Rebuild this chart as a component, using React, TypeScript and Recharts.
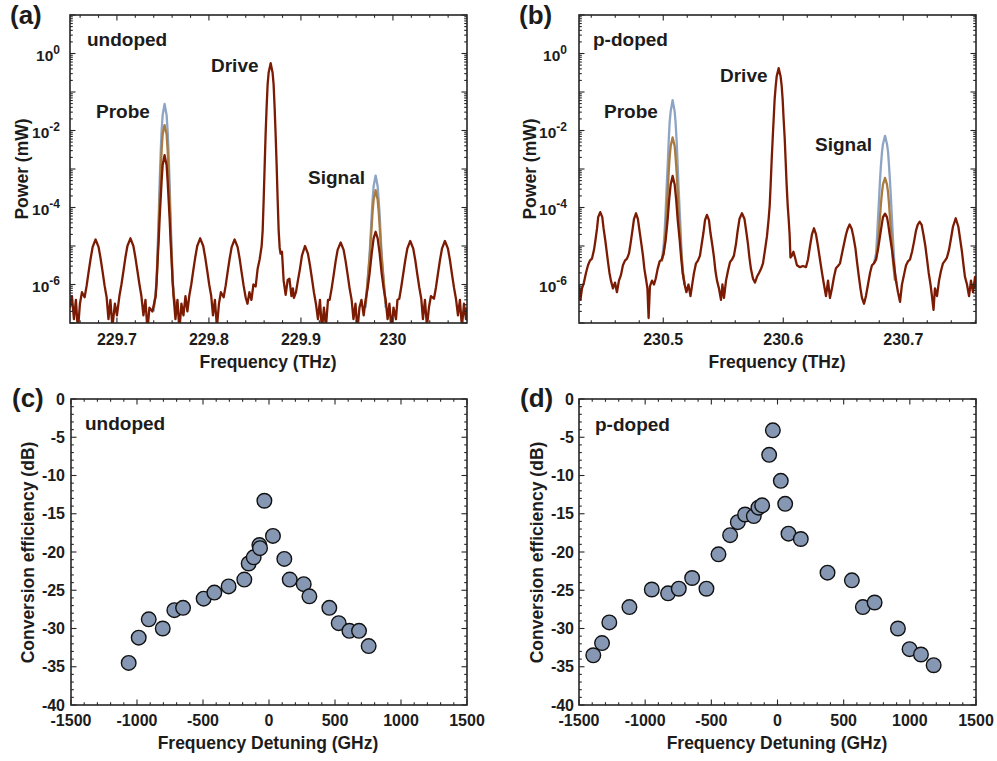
import React from 'react';
import { LineChart, Line, XAxis, YAxis, ScatterChart, Scatter } from 'recharts';

type Pt = [number, number];

const FONT = '"Liberation Sans", Arial, Helvetica, sans-serif';
const INK = '#1c1c1c';
const AX = '#262626';
const BLUE = '#8ea4c5';
const ORANGE = '#a97b40';
const RED = '#7c1b03';
const MARKER = '#8597b2';

// ---------- (a) undoped spectrum : [frequency (THz), log10(power / mW)] ----------
const undopedRed: Pt[] = [
  [229.6489,-6.6],[229.6511,-6.3],[229.6533,-6.9],[229.6554,-6.4],[229.6576,-7.2],[229.6598,-6.5],[229.6620,-6.2],
  [229.6649,-6.33],[229.6671,-6.03],[229.6692,-5.68],[229.6714,-5.33],[229.6736,-5.03],[229.6768,-4.83],[229.6801,-5.03],[229.6823,-5.33],[229.6845,-5.68],[229.6866,-6.03],[229.6888,-6.33],
  [229.6908,-6.9],[229.6929,-6.4],[229.6951,-7.1],[229.6978,-6.5],[229.7000,-6.8],
  [229.7027,-6.3],[229.7049,-6.0],[229.7071,-5.65],[229.7092,-5.3],[229.7114,-5.0],[229.7147,-4.8],[229.7179,-5.0],[229.7201,-5.3],[229.7223,-5.65],[229.7245,-6.0],[229.7266,-6.3],
  [229.7288,-6.8],[229.7310,-6.4],[229.7332,-7.2],[229.7353,-6.6],[229.7386,-6.7],
  [229.7421,-6.3],[229.7432,-5.9],[229.7442,-5.4],[229.7453,-4.9],[229.7464,-4.3],[229.7475,-3.8],[229.7486,-3.3],[229.7497,-2.9],[229.7518,-2.64],[229.7540,-2.9],[229.7551,-3.3],[229.7562,-3.8],[229.7573,-4.3],[229.7584,-4.9],[229.7595,-5.4],[229.7605,-5.9],[229.7616,-6.3],
  [229.7636,-6.9],[229.7658,-6.4],[229.7679,-7.2],[229.7701,-6.5],[229.7723,-6.8],[229.7745,-6.3],[229.7766,-6.7],
  [229.7786,-6.3],[229.7808,-6.0],[229.7829,-5.65],[229.7851,-5.3],[229.7873,-5.0],[229.7905,-4.8],[229.7938,-5.0],[229.7960,-5.3],[229.7982,-5.65],[229.8003,-6.0],[229.8025,-6.3],
  [229.8044,-6.8],[229.8065,-6.4],[229.8087,-7.1],[229.8109,-6.5],[229.8130,-6.2],
  [229.8160,-6.33],[229.8182,-6.03],[229.8203,-5.68],[229.8225,-5.33],[229.8247,-5.03],[229.8279,-4.83],[229.8312,-5.03],[229.8334,-5.33],[229.8355,-5.68],[229.8377,-6.03],[229.8399,-6.33],
  [229.8419,-6.5],[229.8440,-6.2],[229.8462,-6.4],[229.8484,-6.0],
  [229.8508,-6.05],[229.8529,-5.6],[229.8551,-5.35],[229.8573,-5.0],[229.8584,-4.6],[229.8595,-3.8],[229.8606,-2.9],[229.8616,-2.1],[229.8627,-1.4],[229.8638,-0.8],[229.8649,-0.5],[229.8671,-0.25],[229.8692,-0.5],[229.8703,-0.8],[229.8714,-1.4],[229.8725,-2.1],[229.8736,-2.9],[229.8747,-3.8],[229.8758,-4.6],[229.8769,-5.05],[229.8779,-5.2],[229.8794,-5.15],[229.8812,-5.9],[229.8834,-6.27],[229.8856,-5.88],[229.8875,-5.85],[229.8897,-6.3],[229.8913,-6.1],
  [229.8924,-6.35],[229.8946,-6.2],[229.8967,-5.9],[229.8989,-5.6],[229.9011,-5.25],[229.9044,-5.0],[229.9076,-5.2],[229.9098,-5.5],[229.9120,-5.85],[229.9141,-6.2],[229.9163,-6.5],
  [229.9185,-6.9],[229.9207,-6.4],[229.9228,-7.2],[229.9250,-6.6],[229.9272,-7.1],[229.9294,-6.4],
  [229.9312,-6.4],[229.9334,-6.1],[229.9356,-5.75],[229.9377,-5.4],[229.9399,-5.1],[229.9432,-4.91],[229.9464,-5.1],[229.9486,-5.4],[229.9508,-5.75],[229.9529,-6.1],[229.9551,-6.4],
  [229.9571,-6.9],[229.9593,-6.5],[229.9614,-7.2],[229.9636,-6.6],[229.9658,-6.4],
  [229.9682,-6.8],[229.9703,-6.4],[229.9725,-6.1],[229.9747,-5.7],[229.9769,-5.2],[229.9790,-4.8],[229.9812,-4.63],[229.9834,-4.8],[229.9856,-5.2],[229.9877,-5.7],[229.9899,-6.1],[229.9921,-6.4],
  [229.9942,-6.9],[229.9962,-6.5],[229.9984,-7.2],[230.0006,-6.6],[230.0033,-6.9],[230.0049,-6.4],
  [230.0069,-6.37],[230.0090,-6.07],[230.0112,-5.72],[230.0134,-5.37],[230.0156,-5.07],[230.0188,-4.87],[230.0221,-5.07],[230.0243,-5.37],[230.0264,-5.72],[230.0286,-6.07],[230.0308,-6.37],
  [230.0326,-6.9],[230.0348,-6.4],[230.0370,-7.1],[230.0391,-6.6],[230.0413,-6.3],
  [230.0446,-6.37],[230.0468,-6.07],[230.0489,-5.72],[230.0511,-5.37],[230.0533,-5.07],[230.0565,-4.87],[230.0598,-5.07],[230.0620,-5.37],[230.0641,-5.72],[230.0663,-6.07],[230.0685,-6.37],
  [230.0707,-6.8],[230.0728,-6.4],[230.0750,-7.1],[230.0772,-6.5],[230.0794,-6.9],[230.0805,-6.6],
];
const undopedOrangeProbe: Pt[] = [
  [229.7399,-6.6],[229.7421,-6.3],[229.7432,-5.9],[229.7442,-5.3],[229.7453,-4.6],[229.7464,-3.8],[229.7475,-3.1],[229.7486,-2.5],[229.7497,-2.1],[229.7518,-1.86],
  [229.7540,-2.1],[229.7551,-2.5],[229.7562,-3.1],[229.7573,-3.8],[229.7584,-4.6],[229.7595,-5.3],[229.7605,-5.9],[229.7616,-6.3],[229.7638,-6.6],
];
const undopedBlueProbe: Pt[] = [
  [229.7399,-6.7],[229.7421,-6.2],[229.7432,-5.8],[229.7442,-5.1],[229.7453,-4.3],[229.7464,-3.4],[229.7475,-2.6],[229.7486,-2.0],[229.7497,-1.6],[229.7518,-1.31],
  [229.7540,-1.6],[229.7551,-2.0],[229.7562,-2.6],[229.7573,-3.4],[229.7584,-4.3],[229.7595,-5.1],[229.7605,-5.8],[229.7616,-6.2],[229.7638,-6.7],
];
const undopedOrangeSignal: Pt[] = [
  [229.9703,-6.5],[229.9725,-5.9],[229.9747,-5.3],[229.9758,-4.9],[229.9769,-4.5],[229.9779,-4.1],[229.9790,-3.8],[229.9812,-3.55],
  [229.9834,-3.8],[229.9845,-4.1],[229.9856,-4.5],[229.9866,-4.9],[229.9877,-5.3],[229.9899,-5.9],[229.9921,-6.5],
];
const undopedBlueSignal: Pt[] = [
  [229.9703,-6.6],[229.9725,-5.9],[229.9747,-5.2],[229.9758,-4.7],[229.9769,-4.2],[229.9779,-3.8],[229.9790,-3.45],[229.9812,-3.17],
  [229.9834,-3.45],[229.9845,-3.8],[229.9856,-4.2],[229.9866,-4.7],[229.9877,-5.2],[229.9899,-5.9],[229.9921,-6.6],
];

// ---------- (b) p-doped spectrum ----------
const pdopedRed: Pt[] = [
  [230.4298,-6.0],[230.4310,-6.4],[230.4323,-6.1],[230.4339,-5.95],[230.4356,-5.7],[230.4373,-5.5],[230.4389,-5.38],[230.4406,-5.33],[230.4423,-5.1],[230.4435,-4.85],[230.4448,-4.55],[230.4458,-4.25],[230.4475,-4.12],[230.4492,-4.25],[230.4503,-4.55],[230.4517,-4.85],[230.4527,-5.1],[230.4539,-5.4],[230.4552,-5.7],[230.4564,-5.9],[230.4581,-6.1],[230.4598,-5.95],[230.4614,-6.2],
  [230.4631,-5.9],[230.4648,-5.75],[230.4664,-5.5],[230.4681,-5.38],[230.4698,-5.33],[230.4714,-5.2],[230.4727,-4.95],[230.4743,-4.6],[230.4756,-4.3],[230.4773,-4.15],[230.4789,-4.3],[230.4802,-4.6],[230.4818,-4.95],[230.4831,-5.25],[230.4843,-5.6],[230.4856,-5.85],[230.4868,-6.1],[230.4878,-6.87],[230.4889,-6.05],[230.4906,-5.9],[230.4923,-6.0],
  [230.4937,-5.85],[230.4953,-5.6],[230.4970,-5.4],[230.4987,-5.35],[230.5003,-5.2],[230.5020,-4.85],[230.5037,-4.3],[230.5049,-3.8],[230.5062,-3.4],[230.5078,-3.18],[230.5095,-3.4],[230.5108,-3.8],[230.5120,-4.3],[230.5137,-4.85],[230.5149,-5.3],[230.5162,-5.7],[230.5178,-6.0],[230.5193,-6.2],[230.5210,-6.0],[230.5227,-6.3],
  [230.5239,-6.05],[230.5256,-5.7],[230.5273,-5.45],[230.5289,-5.38],[230.5306,-5.25],[230.5318,-5.0],[230.5335,-4.65],[230.5348,-4.33],[230.5364,-4.19],[230.5381,-4.33],[230.5393,-4.65],[230.5410,-5.0],[230.5423,-5.3],[230.5435,-5.65],[230.5448,-5.9],[230.5464,-6.1],[230.5481,-6.4],[230.5493,-6.0],[230.5506,-6.35],
  [230.5523,-5.9],[230.5539,-5.65],[230.5556,-5.42],[230.5573,-5.35],[230.5589,-5.25],[230.5606,-4.95],[230.5618,-4.65],[230.5635,-4.3],[230.5656,-4.15],[230.5677,-4.3],[230.5693,-4.65],[230.5706,-4.95],[230.5718,-5.3],[230.5731,-5.6],[230.5748,-5.85],[230.5764,-5.95],[230.5781,-5.8],
  [230.5798,-5.7],[230.5814,-5.6],[230.5831,-5.45],[230.5848,-5.1],[230.5864,-4.75],[230.5878,-4.3],[230.5887,-3.95],[230.5895,-3.4],[230.5903,-2.8],[230.5912,-2.2],[230.5920,-1.7],[230.5928,-1.2],[230.5937,-0.85],[230.5945,-0.6],[230.5962,-0.38],[230.5978,-0.6],[230.5987,-0.85],[230.5995,-1.2],[230.6003,-1.7],[230.6012,-2.2],[230.6020,-2.8],[230.6028,-3.4],[230.6037,-3.95],[230.6045,-4.3],[230.6053,-4.7],[230.6060,-5.3],[230.6073,-5.25],[230.6085,-5.15],[230.6098,-5.3],[230.6114,-5.5],[230.6139,-5.55],[230.6164,-5.52],[230.6189,-5.55],
  [230.6206,-5.35],[230.6223,-5.0],[230.6239,-4.7],[230.6256,-4.54],[230.6273,-4.7],[230.6289,-5.0],[230.6306,-5.35],[230.6323,-5.7],[230.6339,-6.0],[230.6356,-6.3],[230.6373,-5.9],[230.6389,-6.35],[230.6406,-6.1],
  [230.6423,-5.8],[230.6439,-5.58],[230.6456,-5.52],[230.6473,-5.45],[230.6489,-5.2],[230.6506,-4.95],[230.6523,-4.7],[230.6537,-4.55],[230.6553,-4.44],[230.6570,-4.55],[230.6584,-4.75],[230.6601,-5.05],[230.6614,-5.4],[230.6628,-5.75],[230.6643,-6.1],[230.6656,-6.35],[230.6673,-6.5],[230.6689,-6.3],
  [230.6706,-6.0],[230.6723,-5.7],[230.6739,-5.5],[230.6756,-5.45],[230.6773,-5.35],[230.6789,-5.1],[230.6806,-4.75],[230.6823,-4.4],[230.6831,-4.25],[230.6848,-4.16],[230.6864,-4.25],[230.6873,-4.4],[230.6889,-4.75],[230.6906,-5.1],[230.6923,-5.5],[230.6939,-5.9],[230.6956,-6.2],[230.6973,-6.45],[230.6989,-6.0],
  [230.7006,-5.75],[230.7023,-5.5],[230.7039,-5.4],[230.7056,-5.35],[230.7073,-5.15],[230.7089,-4.9],[230.7106,-4.6],[230.7120,-4.45],[230.7137,-4.37],[230.7153,-4.45],[230.7168,-4.7],[230.7184,-5.0],[230.7198,-5.35],[230.7212,-5.7],[230.7227,-6.0],[230.7239,-6.3],[230.7252,-6.66],[230.7264,-6.1],[230.7281,-6.3],
  [230.7298,-5.9],[230.7314,-5.65],[230.7331,-5.45],[230.7348,-5.38],[230.7364,-5.3],[230.7381,-5.1],[230.7398,-4.8],[230.7414,-4.5],[230.7437,-4.28],[230.7459,-4.5],[230.7473,-4.8],[230.7489,-5.15],[230.7502,-5.5],[230.7514,-5.8],[230.7531,-6.0],[230.7548,-6.3],[230.7564,-5.9],[230.7581,-6.2],[230.7598,-5.8],[230.7606,-6.1],
];
const pdopedOrangeProbe: Pt[] = [
  [230.4987,-5.4],[230.5003,-5.2],[230.5020,-4.6],[230.5028,-4.1],[230.5037,-3.6],[230.5045,-3.1],[230.5053,-2.7],[230.5062,-2.4],[230.5078,-2.18],
  [230.5095,-2.4],[230.5103,-2.7],[230.5112,-3.1],[230.5120,-3.6],[230.5128,-4.1],[230.5137,-4.6],[230.5149,-5.1],[230.5162,-5.6],[230.5178,-6.0],
];
const pdopedBlueProbe: Pt[] = [
  [230.4987,-5.4],[230.5003,-5.0],[230.5012,-4.6],[230.5020,-4.1],[230.5028,-3.5],[230.5037,-2.9],[230.5045,-2.3],[230.5053,-1.8],[230.5062,-1.5],[230.5078,-1.21],
  [230.5095,-1.5],[230.5103,-1.8],[230.5112,-2.3],[230.5120,-2.9],[230.5128,-3.5],[230.5137,-4.1],[230.5145,-4.6],[230.5153,-5.2],[230.5162,-5.7],[230.5178,-6.0],
];
const pdopedOrangeSignal: Pt[] = [
  [230.6756,-5.45],[230.6773,-5.35],[230.6789,-4.95],[230.6798,-4.6],[230.6806,-4.25],[230.6814,-3.9],[230.6823,-3.6],[230.6831,-3.4],[230.6848,-3.23],
  [230.6864,-3.4],[230.6873,-3.6],[230.6881,-3.9],[230.6889,-4.25],[230.6898,-4.6],[230.6906,-5.0],[230.6914,-5.4],[230.6931,-5.9],
];
const pdopedBlueSignal: Pt[] = [
  [230.6756,-5.45],[230.6773,-5.2],[230.6781,-4.8],[230.6789,-4.3],[230.6798,-3.8],[230.6806,-3.3],[230.6814,-2.9],[230.6823,-2.55],[230.6831,-2.35],[230.6848,-2.14],
  [230.6864,-2.35],[230.6873,-2.55],[230.6881,-2.9],[230.6889,-3.3],[230.6898,-3.8],[230.6906,-4.3],[230.6914,-4.8],[230.6923,-5.3],[230.6931,-5.7],[230.6948,-6.0],
];

// ---------- (c) / (d) conversion efficiency ----------
const undopedDetuning = [-1063, -987, -911, -805, -717, -651, -495, -414, -306, -187, -154, -116, -73, -68, -35, 30, 116, 157, 263, 306, 457, 528, 609, 682, 755];
const undopedEfficiency = [-34.5, -31.2, -28.8, -30.0, -27.6, -27.3, -26.1, -25.3, -24.5, -23.6, -21.5, -20.7, -19.1, -19.5, -13.3, -17.9, -20.9, -23.6, -24.2, -25.8, -27.3, -29.3, -30.3, -30.3, -32.3];
const pdopedDetuning = [-1392, -1326, -1271, -1119, -950, -827, -746, -645, -537, -446, -358, -300, -245, -179, -144, -116, -63, -35, 25, 58, 83, 176, 378, 562, 645, 734, 910, 998, 1084, 1180];
const pdopedEfficiency = [-33.5, -31.9, -29.2, -27.2, -24.9, -25.4, -24.8, -23.4, -24.8, -20.3, -17.8, -16.1, -15.1, -15.3, -14.2, -13.9, -7.3, -4.1, -10.7, -13.7, -17.6, -18.3, -22.7, -23.7, -27.2, -26.6, -30.0, -32.7, -33.4, -34.8];

// ---------- ticks ----------
const undopedFreqTicks = [229.7, 229.8, 229.9, 230.0];
const undopedFreqMinor = [229.66, 229.68, 229.72, 229.74, 229.76, 229.78, 229.82, 229.84, 229.86, 229.88, 229.92, 229.94, 229.96, 229.98, 230.02, 230.04, 230.06];
const pdopedFreqTicks = [230.5, 230.6, 230.7];
const pdopedFreqMinor = [230.44, 230.46, 230.48, 230.52, 230.54, 230.56, 230.58, 230.62, 230.64, 230.66, 230.68, 230.72, 230.74, 230.76];
const powerDecades = [1e-7, 1e-6, 1e-5, 1e-4, 1e-3, 1e-2, 1e-1, 1, 10];
const powerLabelled = [-6, -4, -2, 0];
const detuningTicks = [-1500, -1000, -500, 0, 500, 1000, 1500];
const efficiencyTicks = [0, -5, -10, -15, -20, -25, -30, -35, -40];

const powerMinor: number[] = [];
for (let e = -7; e <= 0; e++) for (let k = 2; k <= 9; k++) powerMinor.push(k * Math.pow(10, e));
const detuningMinor: number[] = [];
for (let v = -1400; v <= 1400; v += 100) if (v % 500 !== 0) detuningMinor.push(v);
const efficiencyMinor: number[] = [];
for (let v = -39; v <= -1; v++) if (v % 5 !== 0) efficiencyMinor.push(v);

const toRows = (pts: Pt[]) => pts.map(([f, e]) => ({ f, p: Math.pow(10, e) }));
const isIn = (list: number[], v: number) => list.some((m) => Math.abs(m - v) < 1e-9 * Math.max(1, Math.abs(m)));

const MAJ = 5.5;
const MIN = 2.8;
const TICK_FS = 16;
const RIGHT = 40;

function makeXTick(plotH: number, majors: number[], fmt: (v: number) => string, labelDy: number) {
  return (props: any) => {
    const { x, y, payload } = props;
    const v = payload.value;
    const major = isIn(majors, v);
    const len = major ? MAJ : MIN;
    return (
      <g>
        <line x1={x} y1={y} x2={x} y2={y - len} stroke={AX} strokeWidth={1.1} />
        <line x1={x} y1={y - plotH} x2={x} y2={y - plotH + len} stroke={AX} strokeWidth={1.1} />
        {major ? (
          <text x={x} y={y + labelDy} textAnchor="middle" fontFamily={FONT} fontWeight="bold" fontSize={TICK_FS} fill={INK}>
            {fmt(v)}
          </text>
        ) : null}
      </g>
    );
  };
}

function makeLinYTick(plotW: number, majors: number[], gap: number) {
  return (props: any) => {
    const { x, y, payload } = props;
    const v = payload.value;
    const major = isIn(majors, v);
    const len = major ? MAJ : MIN;
    return (
      <g>
        <line x1={x} y1={y} x2={x + len} y2={y} stroke={AX} strokeWidth={1.1} />
        <line x1={x + plotW} y1={y} x2={x + plotW - len} y2={y} stroke={AX} strokeWidth={1.1} />
        {major ? (
          <text x={x - gap} y={y + 5.6} textAnchor="end" fontFamily={FONT} fontWeight="bold" fontSize={TICK_FS} fill={INK}>
            {String(v)}
          </text>
        ) : null}
      </g>
    );
  };
}

function makeLogYTick(plotW: number, gap: number) {
  return (props: any) => {
    const { x, y, payload } = props;
    const v = payload.value;
    const lg = Math.log10(v);
    const e = Math.round(lg);
    const major = Math.abs(lg - e) < 1e-6;
    const len = major ? MAJ : MIN;
    const lab = major && powerLabelled.indexOf(e) >= 0;
    return (
      <g>
        <line x1={x} y1={y} x2={x + len} y2={y} stroke={AX} strokeWidth={1.1} />
        <line x1={x + plotW} y1={y} x2={x + plotW - len} y2={y} stroke={AX} strokeWidth={1.1} />
        {lab ? (
          <text x={x - gap} y={y + 7.5} textAnchor="end" fontFamily={FONT} fontWeight="bold" fontSize={15.5} fill={INK}>
            10
            <tspan dy={-7.5} fontSize={12}>{String(e)}</tspan>
          </text>
        ) : null}
      </g>
    );
  };
}

type Trace = { rows: { f: number; p: number }[]; color: string };

function SpectrumPanel(props: {
  left: number; top: number; plotW: number; plotH: number; domain: [number, number];
  majors: number[]; minors: number[]; fmt: (v: number) => string; gap: number; traces: Trace[];
}) {
  const { left, top, plotW, plotH, domain, majors, minors, fmt, gap, traces } = props;
  const W = 70 + plotW + RIGHT;
  const H = 10 + plotH + 50;
  const xt = [...majors, ...minors].sort((a, b) => a - b);
  const yt = [...powerDecades, ...powerMinor].sort((a, b) => a - b);
  return (
    <div style={{ position: 'absolute', left: left - 70, top: top - 10 }}>
      <LineChart width={W} height={H} margin={{ top: 10, right: RIGHT, bottom: 0, left: 0 }}>
        <XAxis dataKey="f" type="number" domain={domain} allowDataOverflow ticks={xt} interval={0}
          tickSize={0} tickMargin={0} tickLine={false} axisLine={false} height={50}
          tick={makeXTick(plotH, majors, fmt, 22)} />
        <YAxis type="number" scale="log" domain={[1e-7, 10]} allowDataOverflow ticks={yt} interval={0}
          tickSize={0} tickMargin={0} tickLine={false} axisLine={false} width={70}
          tick={makeLogYTick(plotW, gap)} />
        {traces.map((t, i) => (
          <Line key={i} data={t.rows} dataKey="p" type="linear" stroke={t.color} strokeWidth={2.3}
            dot={false} activeDot={false} isAnimationActive={false} strokeLinejoin="round" />
        ))}
      </LineChart>
    </div>
  );
}

const dotShape = (p: any) => (
  <circle cx={p.cx} cy={p.cy} r={7.3} fill={MARKER} stroke="#111" strokeWidth={1.4} />
);

function ScatterPanel(props: { left: number; top: number; plotW: number; plotH: number; xs: number[]; ys: number[]; gap: number }) {
  const { left, top, plotW, plotH, xs, ys, gap } = props;
  const W = 70 + plotW + RIGHT;
  const H = 10 + plotH + 50;
  const rows = xs.map((x, i) => ({ x, y: ys[i] }));
  const xt = [...detuningTicks, ...detuningMinor].sort((a, b) => a - b);
  const yt = [...efficiencyTicks, ...efficiencyMinor].sort((a, b) => a - b);
  return (
    <div style={{ position: 'absolute', left: left - 70, top: top - 10 }}>
      <ScatterChart width={W} height={H} margin={{ top: 10, right: RIGHT, bottom: 0, left: 0 }}>
        <XAxis dataKey="x" type="number" domain={[-1500, 1500]} allowDataOverflow ticks={xt} interval={0}
          tickSize={0} tickMargin={0} tickLine={false} axisLine={false} height={50}
          tick={makeXTick(plotH, detuningTicks, (v) => String(v), 21)} />
        <YAxis dataKey="y" type="number" domain={[-40, 0]} allowDataOverflow ticks={yt} interval={0}
          tickSize={0} tickMargin={0} tickLine={false} axisLine={false} width={70}
          tick={makeLinYTick(plotW, efficiencyTicks, gap)} />
        <Scatter data={rows} shape={dotShape} isAnimationActive={false} />
      </ScatterChart>
    </div>
  );
}

const fmtFreq = (v: number) => (Math.abs(v - Math.round(v)) < 1e-9 ? String(Math.round(v)) : v.toFixed(1));

const T = (p: { x: number; y: number; size: number; children: React.ReactNode; anchor?: string; rot?: boolean }) =>
  p.rot ? (
    <text transform={`translate(${p.x},${p.y}) rotate(-90)`} textAnchor="middle" fontFamily={FONT} fontWeight="bold" fontSize={p.size} fill={INK}>
      {p.children}
    </text>
  ) : (
    <text x={p.x} y={p.y} textAnchor={(p.anchor as any) || 'start'} fontFamily={FONT} fontWeight="bold" fontSize={p.size} fill={INK}>
      {p.children}
    </text>
  );

export default function App() {
  return (
    <div style={{ position: 'absolute', left: 0, top: 0, width: 997, height: 761, background: '#fff', fontFamily: FONT, overflow: 'hidden' }}>
      <SpectrumPanel left={70} top={15} plotW={397} plotH={308} domain={[229.649, 230.0805]}
        majors={undopedFreqTicks} minors={undopedFreqMinor} fmt={fmtFreq} gap={10}
        traces={[
          { rows: toRows(undopedBlueProbe), color: BLUE },
          { rows: toRows(undopedBlueSignal), color: BLUE },
          { rows: toRows(undopedOrangeProbe), color: ORANGE },
          { rows: toRows(undopedOrangeSignal), color: ORANGE },
          { rows: toRows(undopedRed), color: RED },
        ]} />
      <SpectrumPanel left={579} top={15} plotW={397} plotH={308} domain={[230.4298, 230.7606]}
        majors={pdopedFreqTicks} minors={pdopedFreqMinor} fmt={fmtFreq} gap={12}
        traces={[
          { rows: toRows(pdopedBlueProbe), color: BLUE },
          { rows: toRows(pdopedBlueSignal), color: BLUE },
          { rows: toRows(pdopedOrangeProbe), color: ORANGE },
          { rows: toRows(pdopedOrangeSignal), color: ORANGE },
          { rows: toRows(pdopedRed), color: RED },
        ]} />
      <ScatterPanel left={71} top={399} plotW={396} plotH={306} xs={undopedDetuning} ys={undopedEfficiency} gap={6} />
      <ScatterPanel left={579} top={399} plotW={397} plotH={306} xs={pdopedDetuning} ys={pdopedEfficiency} gap={5} />

      <svg width={997} height={761} style={{ position: 'absolute', left: 0, top: 0, pointerEvents: 'none' }}>
        <rect x={70} y={15} width={397} height={308} fill="none" stroke={AX} strokeWidth={1.6} />
        <rect x={579} y={15} width={397} height={308} fill="none" stroke={AX} strokeWidth={1.6} />
        <rect x={71} y={399} width={396} height={306} fill="none" stroke={AX} strokeWidth={1.6} />
        <rect x={579} y={399} width={397} height={306} fill="none" stroke={AX} strokeWidth={1.6} />

        <T x={10} y={24} size={26}>(a)</T>
        <T x={519} y={24} size={26}>(b)</T>
        <T x={12} y={407} size={26}>(c)</T>
        <T x={520} y={407} size={26}>(d)</T>

        <T x={87} y={45.5} size={19}>undoped</T>
        <T x={211} y={72} size={19}>Drive</T>
        <T x={96} y={117.6} size={19}>Probe</T>
        <T x={308} y={184.3} size={19}>Signal</T>

        <T x={593} y={45.5} size={19}>p-doped</T>
        <T x={720} y={82} size={19}>Drive</T>
        <T x={604} y={117.6} size={19}>Probe</T>
        <T x={815} y={151} size={19}>Signal</T>

        <T x={85} y={430} size={19}>undoped</T>
        <T x={595} y={430.6} size={19}>p-doped</T>

        <T x={268} y={367.5} size={17.5} anchor="middle">Frequency (THz)</T>
        <T x={777} y={367.5} size={17.5} anchor="middle">Frequency (THz)</T>
        <T x={268} y={749} size={17.5} anchor="middle">Frequency Detuning (GHz)</T>
        <T x={777} y={749} size={17.5} anchor="middle">Frequency Detuning (GHz)</T>

        <T x={27.5} y={169} size={17.5} rot>Power (mW)</T>
        <T x={536} y={169} size={17.5} rot>Power (mW)</T>
        <T x={34} y={552.5} size={17.5} rot>Conversion efficiency (dB)</T>
        <T x={543} y={552.5} size={17.5} rot>Conversion efficiency (dB)</T>
      </svg>
    </div>
  );
}
